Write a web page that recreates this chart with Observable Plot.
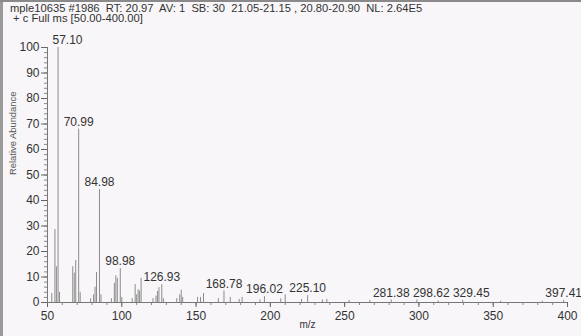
<!DOCTYPE html>
<html>
<head>
<meta charset="utf-8">
<script src="https://cdn.jsdelivr.net/npm/d3@7"></script>
<script src="https://cdn.jsdelivr.net/npm/@observablehq/plot@0.6"></script>
<style>
  html, body { margin: 0; padding: 0; background: #f8f6f8; }
  body { width: 581px; height: 336px; position: relative; overflow: hidden; font-family: "Liberation Sans", Arial, sans-serif; color: #333; }
  #title { height: 26px; padding-left: 10px; font-size: 11.2px; line-height: 10px; padding-top: 3px; box-sizing: border-box; white-space: pre; }
  #leftEdge { position: absolute; left: 0; top: 0; bottom: 0; width: 3px; background: #9a9a9a; }
  #topEdge { position: absolute; left: 0; top: 0; right: 0; height: 2px; background: #8a8a8a; }
  svg { display: block; }
</style>
</head>
<body>
<div id="title"></div>
<div id="chart"></div>
<div id="leftEdge"></div>
<div id="topEdge"></div>
<script>
const titleLines = [
  "mple10635 #1986  RT: 20.97  AV: 1  SB: 30  21.05-21.15 , 20.80-20.90  NL: 2.64E5",
  " + c Full ms [50.00-400.00]"
];
const xLabel = "m/z";
const yLabel = "Relative Abundance";
const xTicks = [50, 100, 150, 200, 250, 300, 350, 400];
const yTicks = [0, 10, 20, 30, 40, 50, 60, 70, 80, 90, 100];

// peak m/z and relative abundance (%)
const peakMz = [52.9, 55.0, 56.0, 57.10, 58.1, 67.0, 68.0, 69.0, 70.99, 72.0,
  79.0, 81.0, 82.0, 83.0, 84.98, 86.0, 93.0, 95.0, 96.0, 97.0, 98.98, 100.0,
  107.0, 109.0, 110.0, 111.0, 112.0, 113.0, 121.0, 123.0, 124.0, 125.0, 126.93, 128.0,
  137.0, 139.0, 140.0, 141.0, 151.0, 153.0, 155.0, 165.0, 168.78, 173.0,
  179.0, 181.0, 193.0, 196.02, 207.0, 210.0, 221.0, 225.10, 235.0, 238.0,
  253.0, 267.0, 281.38, 298.62, 313.0, 329.45, 355.0, 383.0, 397.41];
const peakInt = [3.5, 28.6, 14.0, 100, 4.0, 14.0, 11.5, 16.5, 68.0, 4.0,
  1.5, 3.0, 6.0, 11.8, 44.3, 3.0, 1.5, 7.5, 10.5, 9.5, 13.3, 2.0,
  1.5, 7.0, 3.0, 5.0, 4.5, 9.5, 1.5, 2.5, 4.3, 5.8, 7.0, 1.5,
  1.5, 3.0, 4.8, 2.0, 2.0, 2.0, 3.5, 1.5, 4.5, 2.0,
  1.2, 2.0, 1.0, 2.3, 1.5, 3.0, 1.2, 2.7, 1.0, 1.2,
  0.8, 0.8, 1.0, 1.0, 0.6, 0.8, 0.5, 0.5, 0.8];
const labeledMz = [57.10, 70.99, 84.98, 98.98, 126.93, 168.78, 196.02, 225.10, 281.38, 298.62, 329.45, 397.41];

const W = 581, H = 310, ML = 47, MR = 14, MT = 21, MB = 34;
const xDomain = [50, 400], yDomain = [0, 100];
const peaks = peakMz.map((mz, i) => ({mz, int: peakInt[i]}));

// label placement: keep clear of the y axis and nudge right when a label at a similar height would collide
const fontSize = 12;
const pxX = (W - ML - MR) / (xDomain[1] - xDomain[0]);
const pxY = (H - MT - MB) / (yDomain[1] - yDomain[0]);
const labels = peaks.filter(p => labeledMz.includes(p.mz)).map(p => ({...p, text: p.mz.toFixed(2), lx: p.mz}));
const placed = [];
for (const l of labels) {
  const half = l.text.length * fontSize * 0.5 / 2 + 2;
  const ly = H - MB - l.int * pxY;
  let cx = ML + (l.mz - xDomain[0]) * pxX;
  cx = Math.max(cx, ML + 3 + half);
  for (const q of placed) {
    if (Math.abs(q.ly - ly) < fontSize && cx - half < q.right) cx = q.right + half;
  }
  placed.push({ly, right: cx + half});
  l.lx = xDomain[0] + (cx - ML) / pxX;
}

document.getElementById("title").textContent = titleLines.join("\n");

const plot = Plot.plot({
  width: W,
  height: H,
  marginLeft: ML,
  marginRight: MR,
  marginTop: MT,
  marginBottom: MB,
  style: {background: "transparent", fontFamily: "Liberation Sans, Arial, sans-serif", fontSize: "12px", color: "#333", overflow: "visible"},
  x: {domain: xDomain, label: null},
  y: {domain: yDomain, label: null},
  marks: [
    Plot.axisY(d3.range(0, 101, 2), {tickSize: 3, fill: "none", stroke: "#8a8a8a", label: null}),
    Plot.axisY(yTicks, {tickSize: 6, tickPadding: 2, stroke: "#666", fill: "#333", fontSize: 12, label: null}),
    Plot.axisX(d3.range(50, 401, 10), {tickSize: 3, fill: "none", stroke: "#8a8a8a", label: null}),
    Plot.axisX(xTicks, {tickSize: 5, tickPadding: 4, stroke: "#666", fill: "#333", fontSize: 12, label: null}),
    Plot.ruleX([50], {stroke: "#777"}),
    Plot.ruleY([0], {stroke: "#777"}),
    Plot.ruleX(peaks, {x: "mz", y1: 0, y2: "int", stroke: "#8c8c8c", strokeWidth: 1}),
    Plot.text(labels, {x: "lx", y: "int", text: "text", dy: -7, fill: "#333", fontSize: fontSize}),
    Plot.text([yLabel], {frameAnchor: "left", rotate: -90, dx: -35, fontSize: 9.4, fill: "#555"}),
    Plot.text([xLabel], {frameAnchor: "bottom", dy: 25, fontSize: 10, fill: "#333"})
  ]
});
document.getElementById("chart").appendChild(plot);
</script>
</body>
</html>
